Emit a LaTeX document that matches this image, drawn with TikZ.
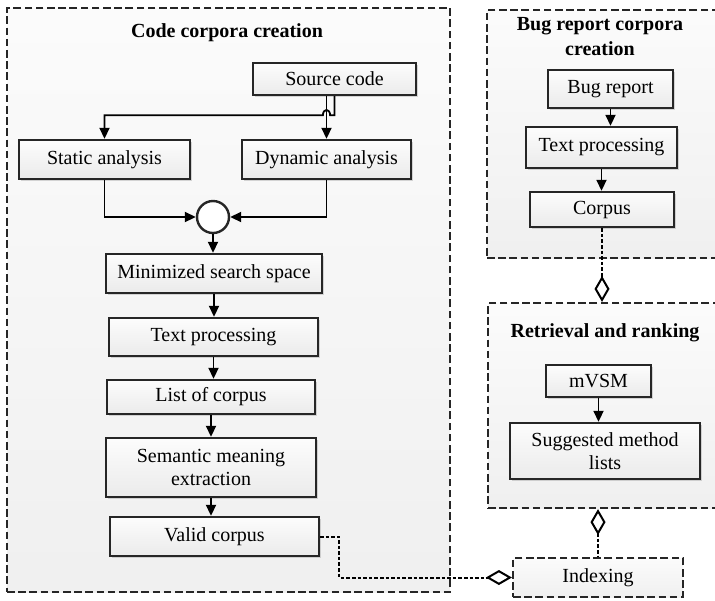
\documentclass[tikz,border=0pt]{standalone}
\usepackage{fontspec}
\setmainfont{Liberation Serif}
\usetikzlibrary{arrows.meta,shadows}

\begin{document}
\begin{tikzpicture}[x=0.5pt, y=-0.5pt, font=\fontsize{10}{11.5}\selectfont]
    % Styles
    \tikzstyle{group} = [rectangle, draw=black!85, line width=1.1pt, dash pattern=on 3.8pt off 1.8pt, top color=gray!3, bottom color=gray!12, inner sep=0pt]
    \tikzstyle{block} = [rectangle, draw=black!85, line width=1.2pt, top color=gray!2, bottom color=gray!16, align=center, inner sep=1pt, drop shadow={shadow xshift=0.9pt, shadow yshift=-0.9pt, opacity=0.3}]
    \tikzstyle{heading} = [font=\fontsize{10}{12.5}\selectfont\bfseries, align=center]
    \tikzstyle{arrow} = [-{Triangle[length=5.5pt, width=5pt]}, line width=0.9pt]
    \tikzstyle{assoc} = [line width=1pt, dash pattern=on 1.8pt off 1pt]
    \tikzstyle{aggend} = [-{Diamond[open, length=13pt, width=7.5pt]}]
    \tikzstyle{aggstart} = [{Diamond[open, length=13pt, width=7.5pt]}-]

    \useasboundingbox (0,0) rectangle (715,600);

    % Groups
    \node[group, minimum width=221.5pt, minimum height=292pt] (code) at (228.5,300) {};
    \node[group, minimum width=116.5pt, minimum height=124pt] (bugs) at (603.5,134) {};
    \node[group, minimum width=116pt, minimum height=102.5pt] (retr) at (604,405.5) {};
    \node[group, minimum width=85pt, minimum height=19.5pt] (idx) at (598,577.5) {Indexing};

    \node[heading] at (227,33) {Code corpora creation};
    \node[heading] at (600,37) {Bug report corpora\\creation};
    \node[heading] at (605,333) {Retrieval and ranking};

    % Code corpora creation
    \node[block, minimum width=81.5pt, minimum height=16pt] (src) at (334.5,79) {Source code};
    \node[block, minimum width=85.5pt, minimum height=19.5pt] (stat) at (104.5,159.5) {Static analysis};
    \node[block, minimum width=84.5pt, minimum height=19.5pt] (dyn) at (326.5,159.5) {Dynamic analysis};
    \node[circle, draw=black!85, line width=1.2pt, fill=white, minimum size=16pt, inner sep=0pt] (merge) at (213,217) {};
    \node[block, minimum width=108pt, minimum height=19.5pt] (mss) at (214,273.5) {Minimized search space};
    \node[block, minimum width=104.5pt, minimum height=19pt] (ctp) at (213.5,337) {Text processing};
    \node[block, minimum width=104pt, minimum height=17pt] (lst) at (211,397) {List of corpus};
    \node[block, minimum width=105pt, minimum height=29.5pt] (sem) at (211,467.5) {Semantic meaning\\extraction};
    \node[block, minimum width=104.5pt, minimum height=19.5pt] (val) at (214.5,536.5) {Valid corpus};

    % Bug report corpora creation
    \node[block, minimum width=62.5pt, minimum height=19pt] (bug) at (610.5,89) {Bug report};
    \node[block, minimum width=75.5pt, minimum height=20.5pt] (btp) at (601.5,147.5) {Text processing};
    \node[block, minimum width=72pt, minimum height=17.5pt] (bcorp) at (602,209.5) {Corpus};

    % Retrieval and ranking
    \node[block, minimum width=52.5pt, minimum height=16pt] (vsm) at (598.5,381) {mVSM};
    \node[block, minimum width=95pt, minimum height=28pt] (sug) at (605,451) {Suggested method\\lists};

    % Arrows
    \draw[arrow] (src.south -| dyn.north) -- (dyn.north);
    \draw[arrow] (src.south) -- ++(0,19) coordinate (turn)
        -- ([xshift=1.8pt]turn -| dyn.north) .. controls +(0,-7) and +(0,-7) .. ([xshift=-1.8pt]turn -| dyn.north)
        -- (turn -| stat.north) -- (stat.north);
    \draw[arrow] (stat.south) |- (merge.west);
    \draw[arrow] (dyn.south) |- (merge.east);
    \draw[arrow] (merge.south) -- (merge.south |- mss.north);
    \foreach \a/\b in {mss/ctp, ctp/lst, lst/sem, sem/val, bug/btp, btp/bcorp, vsm/sug}
        \draw[arrow] (\a.south) -- (\a.south |- \b.north);

    % Links
    \draw[assoc, aggend] (bcorp.south) -- (bcorp.south |- retr.north);
    \draw[assoc, aggstart] (retr.south -| idx.north) -- (idx.north);
    \draw[assoc, aggend] (val.east) -- ++(19,0) |- (idx.west);
\end{tikzpicture}
\end{document}
